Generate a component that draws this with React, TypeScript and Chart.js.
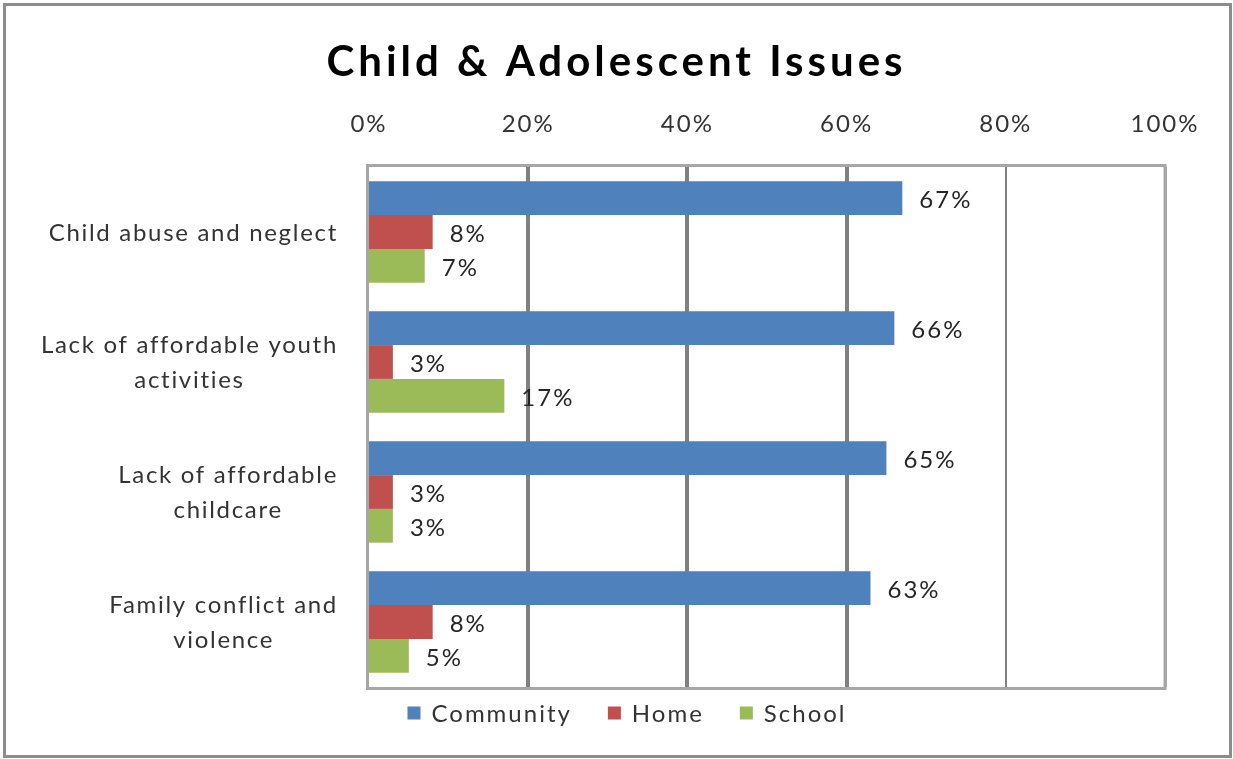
import React, { useEffect, useRef } from "react";
import { Chart, registerables } from "chart.js";

Chart.register(...registerables);

const categories: (string | string[])[] = [
  "Child abuse and neglect",
  ["Lack of affordable youth", "activities"],
  ["Lack of affordable", "childcare"],
  ["Family conflict and", "violence"],
];
const communityValues = [67, 66, 65, 63];
const homeValues = [8, 3, 3, 8];
const schoolValues = [7, 17, 3, 5];
const seriesNames = ["Community", "Home", "School"];
const xTicks = [0, 20, 40, 60, 80, 100];

const FONT = "Lato, 'Open Sans', sans-serif";
const TEXT = "#333333";

const frame = {
  id: "frame",
  beforeLayout(chart: any) {
    chart.ctx.letterSpacing = "2px";
  },
  afterLayout(chart: any) {
    const tb = chart.titleBlock;
    if (tb && !tb.__wrapped) {
      const orig = tb.draw;
      tb.draw = function (this: any, ...args: any[]) {
        const ctx = chart.ctx;
        ctx.save();
        ctx.letterSpacing = "4px";
        orig.apply(this, args);
        ctx.restore();
      };
      tb.__wrapped = true;
    }
  },
  beforeDraw(chart: any) {
    const ctx = chart.ctx;
    ctx.letterSpacing = "2px";
    ctx.save();
    ctx.fillStyle = "#ffffff";
    ctx.fillRect(0, 0, chart.width, chart.height);
    ctx.strokeStyle = "#8c8c8c";
    ctx.lineWidth = 3;
    ctx.strokeRect(4.5, 4.5, 1226, 752);
    ctx.restore();
  },
  beforeDatasetsDraw(chart: any) {
    const { ctx, chartArea: a } = chart;
    ctx.save();
    ctx.strokeStyle = "#a6a6a6";
    ctx.lineWidth = 3;
    ctx.strokeRect(a.left - 1.5, a.top - 1.5, a.right - a.left + 1.5, a.bottom - a.top + 3);
    ctx.restore();
  },
  afterDatasetsDraw(chart: any) {
    const ctx = chart.ctx;
    ctx.save();
    ctx.font = `24px ${FONT}`;
    ctx.fillStyle = "#262626";
    ctx.textAlign = "left";
    ctx.textBaseline = "middle";
    chart.data.datasets.forEach((ds: any, i: number) => {
      const meta = chart.getDatasetMeta(i);
      meta.data.forEach((el: any, j: number) => {
        ctx.fillText(`${ds.data[j]}%`, el.x + 17, el.y + 2);
      });
    });
    ctx.restore();
  },
  afterDraw(chart: any) {
    const ctx = chart.ctx;
    ctx.save();
    ctx.font = `24px ${FONT}`;
    ctx.textBaseline = "middle";

    // category labels: each block right-aligned to the axis, lines centred within the block
    const yScale = chart.scales.y;
    const lineH = 35;
    const rightEdge = chart.chartArea.left - 31;
    ctx.letterSpacing = "1.7px";
    ctx.fillStyle = TEXT;
    ctx.textAlign = "center";
    chart.data.labels.forEach((lab: any, i: number) => {
      const lines: string[] = Array.isArray(lab) ? lab : [lab];
      const w = Math.max(...lines.map((l) => ctx.measureText(l).width));
      const cx = rightEdge - w / 2;
      const cy = yScale.getPixelForTick(i);
      lines.forEach((l, k) => {
        ctx.fillText(l, cx, cy + (k - (lines.length - 1) / 2) * lineH + 1);
      });
    });

    // legend row under the plot, built from the datasets
    ctx.letterSpacing = "2px";
    const box = 13;
    const boxGap = 11;
    const itemGap = 36;
    const cy = 713;
    ctx.textAlign = "left";
    const items = chart.data.datasets.map((ds: any) => ({
      label: ds.label,
      color: ds.backgroundColor,
      w: ctx.measureText(ds.label).width,
    }));
    const total =
      items.reduce((s: number, it: any) => s + box + boxGap + it.w, 0) + itemGap * (items.length - 1);
    let x = 627 - total / 2;
    items.forEach((it: any) => {
      ctx.fillStyle = it.color;
      ctx.fillRect(x, cy - box / 2, box, box);
      ctx.fillStyle = TEXT;
      ctx.fillText(it.label, x + box + boxGap, cy + 1);
      x += box + boxGap + it.w + itemGap;
    });
    ctx.restore();
  },
};

export default function App() {
  const ref = useRef<HTMLCanvasElement>(null);
  useEffect(() => {
    document.body.style.margin = "0";
    const chart = new Chart(ref.current!, {
      type: "bar",
      data: {
        labels: categories,
        datasets: [
          { label: seriesNames[0], data: communityValues, backgroundColor: "#4F81BD" },
          { label: seriesNames[1], data: homeValues, backgroundColor: "#C0504D" },
          { label: seriesNames[2], data: schoolValues, backgroundColor: "#9BBB59" },
        ],
      },
      plugins: [frame],
      options: {
        indexAxis: "y",
        animation: false,
        responsive: false,
        categoryPercentage: 0.78,
        barPercentage: 1,
        layout: { padding: { top: 27, left: 68, right: 68, bottom: 72 } },
        plugins: {
          title: {
            display: true,
            text: "Child & Adolescent Issues",
            color: "#000000",
            font: { family: FONT, size: 42, weight: "bold" },
            padding: { top: 10, bottom: 10 },
          },
          legend: { display: false },
          tooltip: { enabled: false },
        },
        scales: {
          x: {
            position: "top",
            min: 0,
            max: 100,
            afterBuildTicks(scale: any) {
              scale.ticks = xTicks.map((v) => ({ value: v }));
            },
            afterFit(scale: any) {
              scale.height = 69.6;
              scale.paddingLeft = 0;
              scale.paddingRight = 0;
            },
            ticks: {
              color: TEXT,
              font: { family: FONT, size: 24 },
              padding: 28,
              callback: (v: any) => `${v}%`,
            },
            border: { display: false },
            grid: {
              drawTicks: false,
              color: (c: any) => (c.tick && c.tick.value === 100 ? "#a6a6a6" : "#808080"),
              lineWidth: (c: any) => {
                const v = c.tick ? c.tick.value : 0;
                if (v === 0) return 0;
                if (v === 80) return 2;
                if (v === 100) return 3;
                return 4;
              },
            },
          },
          y: {
            afterFit(scale: any) {
              scale.width = 301;
            },
            ticks: { display: false },
            border: { display: false },
            grid: { display: false, drawTicks: false },
          },
        },
      },
    });
    return () => chart.destroy();
  }, []);
  return <canvas ref={ref} width={1233} height={759} style={{ display: "block" }} />;
}
